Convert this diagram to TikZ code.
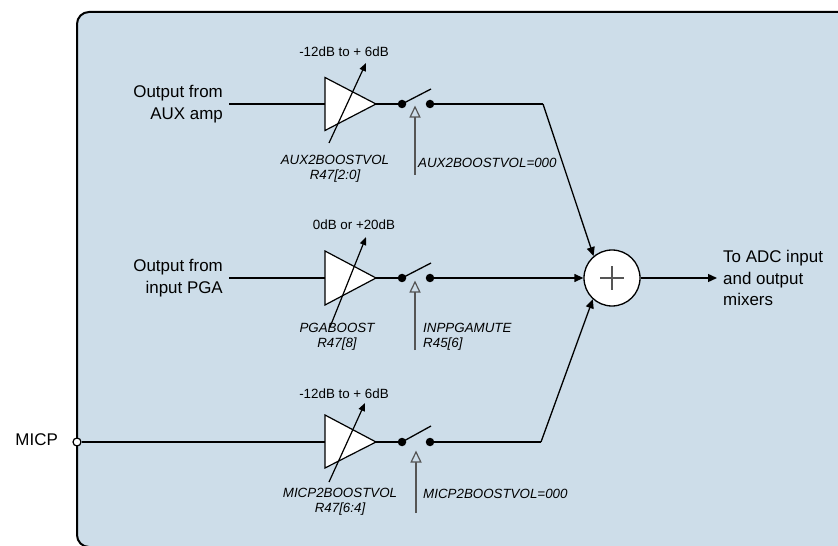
\documentclass[tikz,border=0pt]{standalone}
\usepackage{fontspec}
\setmainfont{Liberation Sans}
\usetikzlibrary{arrows.meta}
\definecolor{panel}{RGB}{205,221,233}
\definecolor{ctrlgrey}{RGB}{85,85,85}
\begin{document}
\begin{tikzpicture}[x=1bp,y=-1bp,
  wire/.style={line width=1.3bp, black},
  sig/.style={wire, -{Triangle[length=9bp,width=8bp]}},
  gainarrow/.style={line width=1.2bp, black, -{Triangle[length=8bp,width=6.5bp]}},
  ctl/.style={line width=1.3bp, ctrlgrey},
  ctltip/.style={line width=1.2bp, draw=ctrlgrey, fill=panel, line join=miter},
  ampbox/.style={line width=1.2bp, draw=black, fill=white, line join=miter},
  dot/.style={circle, fill=black, minimum size=8.5bp, inner sep=0pt},
  big/.style={font=\fontsize{17}{21.5}\selectfont, inner sep=0pt},
  small/.style={font=\fontsize{13.4}{15}\selectfont, inner sep=0pt},
  ital/.style={font=\fontsize{13.4}{15}\selectfont\itshape, inner sep=0pt}]
\path[use as bounding box] (0,0) rectangle (838,546);
% panel
\draw[line width=2bp, fill=panel, rounded corners=12bp] (77,12) rectangle (870,547);

% ---------- top row: AUX ----------
\node[big, anchor=east, align=right] (auxtxt) at (223,104) {Output from\\AUX amp};
\coordinate (Ain) at (229,104);
\coordinate (A1l) at (325,104);
\coordinate (A1r) at (376,104);
\draw[wire] (Ain) -- (A1l);
\draw[ampbox] (325,77.5) -- (A1r) -- (325,130.5) -- cycle;
\node[dot] (A1d1) at (402,104) {};
\node[dot] (A1d2) at (430,104) {};
\draw[wire] (A1r) -- (A1d1.center);
\draw[wire] (A1d1.center) -- (431,89);
\coordinate (A1g0) at (329,143);
\coordinate (A1g1) at (366,63);
\draw[gainarrow] (A1g0) -- (A1g1);
\node[small] (A1rng) at (344,52) {-12dB to + 6dB};
\node[ital, align=center] (A1reg) at (335,169) {AUX2BOOSTVOL\\R47[2:0]};
\coordinate (A1c0) at (415,175);
\coordinate (A1c1) at (415,107);
\draw[ctl] (A1c0) -- ++(0,-58);
\draw[ctltip] (A1c1) -- ++(-4.8,10) -- ++(9.6,0) -- cycle;
\node[ital, anchor=west] (A1ctl) at (418,163) {AUX2BOOSTVOL=000};

% ---------- summer ----------
\node[circle, draw, fill=white, line width=1.3bp, minimum size=56bp, inner sep=0pt] (sum) at (612,278) {};
\draw[line width=1.2bp, ctrlgrey] ([xshift=-12bp]sum.center) -- ([xshift=12bp]sum.center);
\draw[line width=1.2bp, ctrlgrey] ([yshift=-12bp]sum.center) -- ([yshift=12bp]sum.center);

\coordinate (A1k) at (543,104);
\draw[wire] (A1d2.center) -- (A1k);
\draw[sig] (A1k) -- (sum.130);

% ---------- middle row: PGA ----------
\node[big, anchor=east, align=right] (pgatxt) at (223,278) {Output from\\input PGA};
\coordinate (Pin) at (229,278);
\coordinate (A2l) at (325,278);
\coordinate (A2r) at (376,278);
\draw[wire] (Pin) -- (A2l);
\draw[ampbox] (325,251) -- (A2r) -- (325,305) -- cycle;
\node[dot] (A2d1) at (402,278) {};
\node[dot] (A2d2) at (430,278) {};
\draw[wire] (A2r) -- (A2d1.center);
\draw[wire] (A2d1.center) -- (431,263);
\coordinate (A2g0) at (330,327);
\coordinate (A2g1) at (366,237);
\draw[gainarrow] (A2g0) -- (A2g1);
\node[small] (A2rng) at (354,225) {0dB or +20dB};
\node[ital, align=center] (A2reg) at (337,337) {PGABOOST\\R47[8]};
\coordinate (A2c0) at (415,350);
\coordinate (A2c1) at (415,282);
\draw[ctl] (A2c0) -- ++(0,-58);
\draw[ctltip] (A2c1) -- ++(-4.8,10) -- ++(9.6,0) -- cycle;
\node[ital, anchor=west, align=left] (A2ctl) at (423,337) {INPPGAMUTE\\R45[6]};
\draw[sig] (A2d2.center) -- (sum.west);

% ---------- bottom row: MICP ----------
\node[big, anchor=east] (micp) at (58,440) {MICP};
\node[circle, draw, fill=white, line width=1.2bp, minimum size=8bp, inner sep=0pt] (pin) at (77,442) {};
\coordinate (A3l) at (325,442);
\coordinate (A3r) at (376,442);
\draw[wire] (pin) -- (A3l);
\draw[ampbox] (325,415) -- (A3r) -- (325,468) -- cycle;
\node[dot] (A3d1) at (402,442) {};
\node[dot] (A3d2) at (430,442) {};
\draw[wire] (A3r) -- (A3d1.center);
\draw[wire] (A3d1.center) -- (431,426);
\coordinate (A3g0) at (329,482);
\coordinate (A3g1) at (365,403);
\draw[gainarrow] (A3g0) -- (A3g1);
\node[small] (A3rng) at (344,394) {-12dB to + 6dB};
\node[ital, align=center] (A3reg) at (340,502) {MICP2BOOSTVOL\\R47[6:4]};
\coordinate (A3c0) at (416,513);
\coordinate (A3c1) at (416,452);
\draw[ctl] (A3c0) -- ++(0,-51);
\draw[ctltip] (A3c1) -- ++(-4.8,10) -- ++(9.6,0) -- cycle;
\node[ital, anchor=west] (A3ctl) at (423,494) {MICP2BOOSTVOL=000};
\coordinate (A3k) at (541,442);
\draw[wire] (A3d2.center) -- (A3k);
\draw[sig] (A3k) -- (sum.228);

% ---------- output ----------
\coordinate (out) at (717,278);
\draw[sig] (sum.east) -- (out);
\node[big, anchor=west, align=left] (outtxt) at (723,278) {To ADC input\\and output\\mixers};
\end{tikzpicture}
\end{document}
